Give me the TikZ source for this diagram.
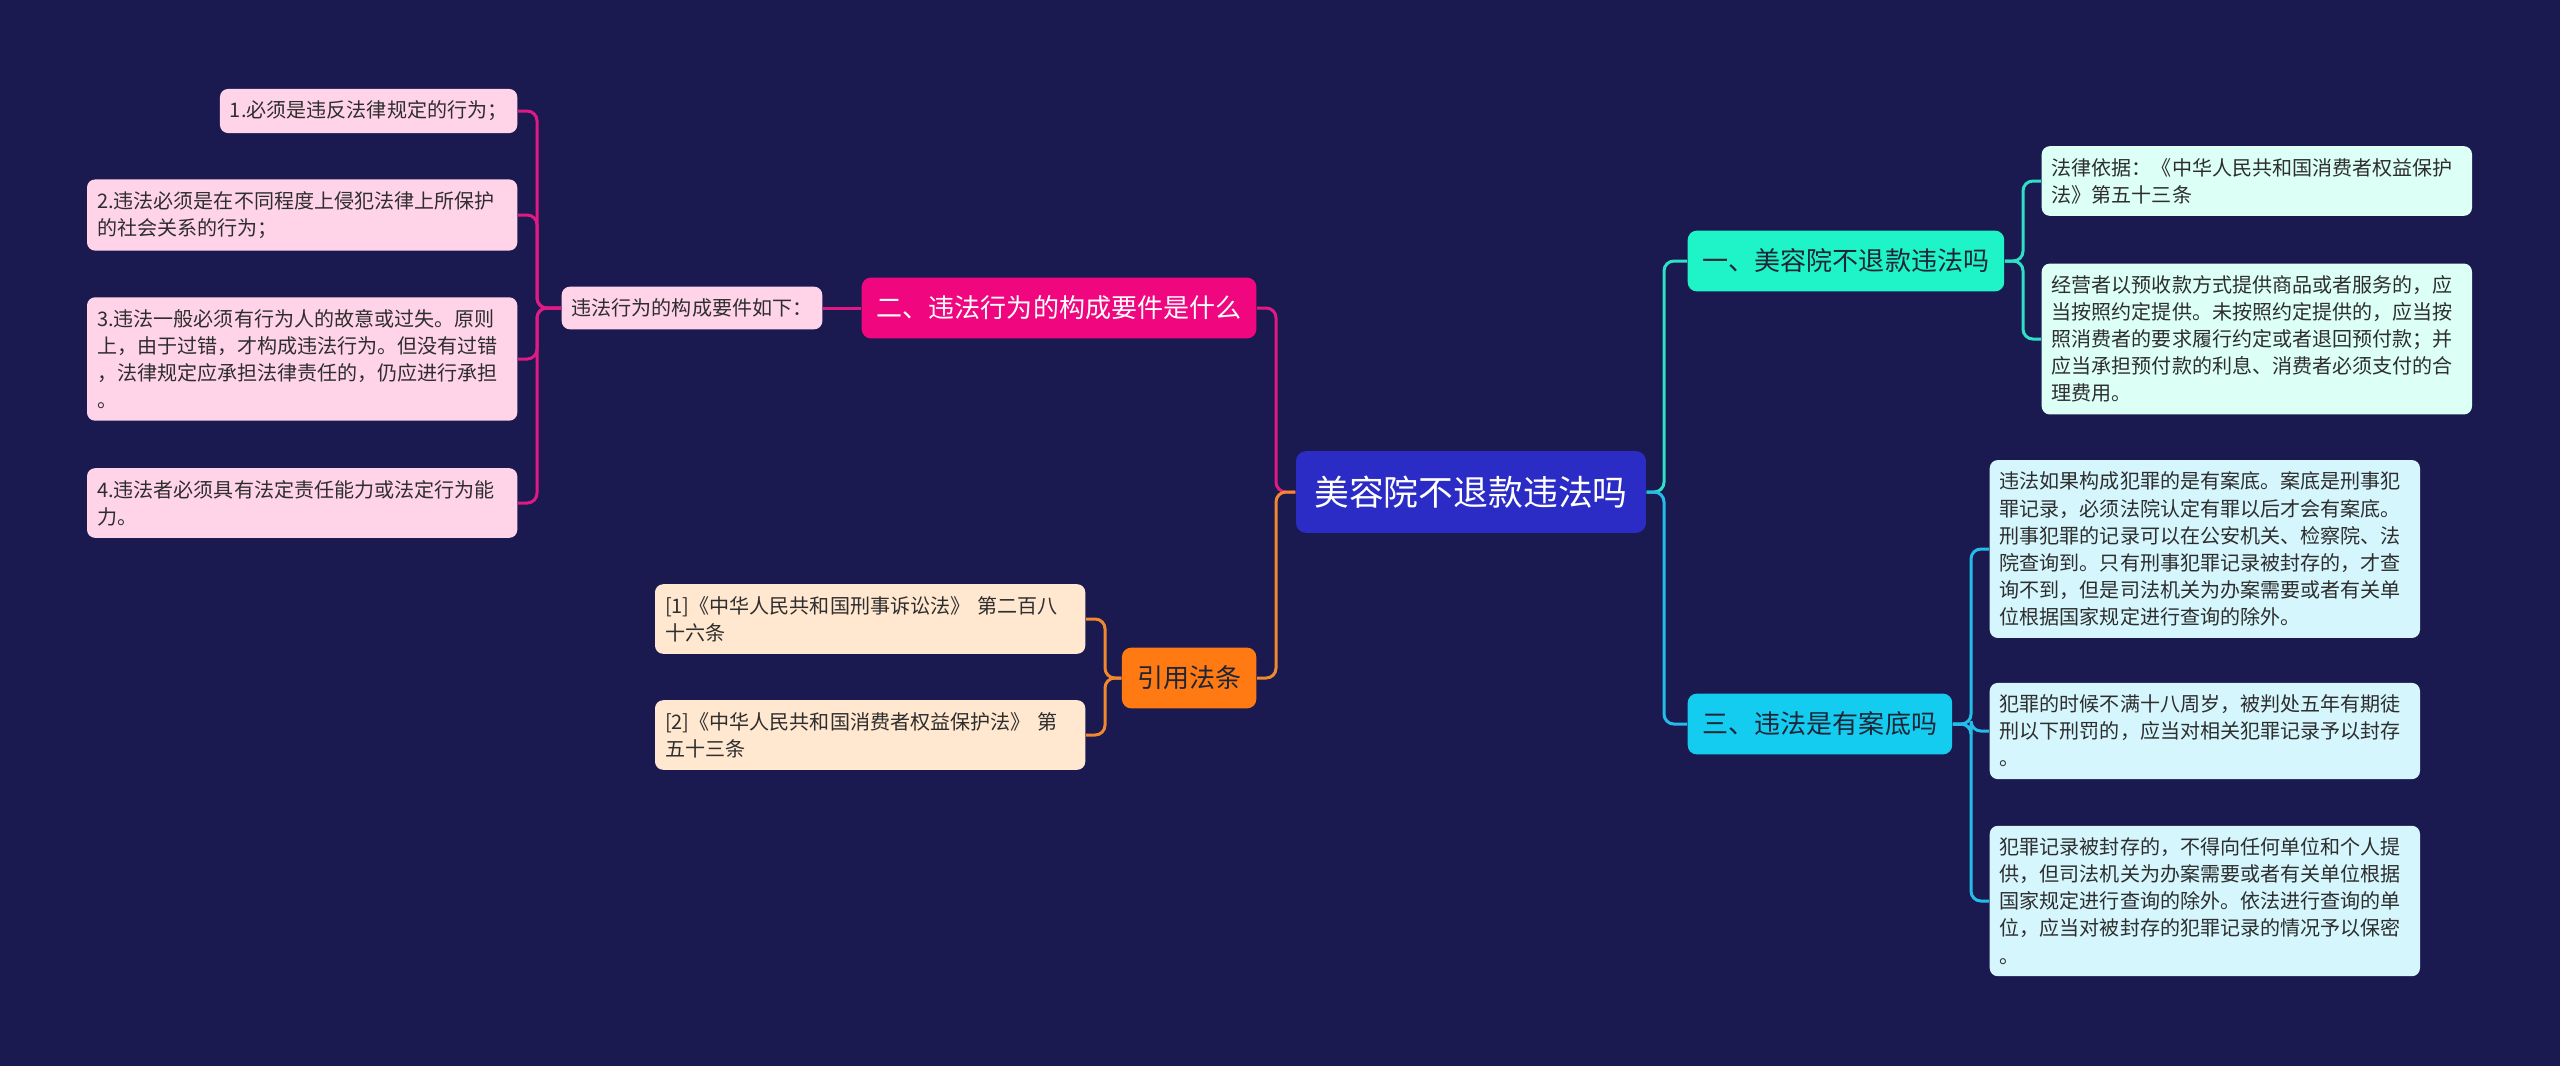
\documentclass[tikz,border=0pt]{standalone}
\usepackage{fontspec}
\setmainfont{Noto Sans CJK SC}
\usepackage{tikz}
\usetikzlibrary{positioning}
\definecolor{bgc}{HTML}{1B1A50}
\definecolor{rootc}{HTML}{2B2BC6}
\definecolor{pinkc}{HTML}{F0077F}
\definecolor{pinkline}{HTML}{E01A84}
\definecolor{pinkleaf}{HTML}{FFD3E8}
\definecolor{orangec}{HTML}{FF7A12}
\definecolor{orangeline}{HTML}{F0892E}
\definecolor{peach}{HTML}{FFE7D0}
\definecolor{tealc}{HTML}{1EF4C7}
\definecolor{tealline}{HTML}{2EE0C6}
\definecolor{mint}{HTML}{DCFFF6}
\definecolor{skyc}{HTML}{14CBF0}
\definecolor{skyline}{HTML}{23BDE8}
\definecolor{ice}{HTML}{D5F6FD}
\definecolor{ink}{HTML}{2E2E2E}
\definecolor{darkink}{HTML}{1E2636}
\tikzset{
  rootbox/.style={fill=rootc,text=white,rounded corners=2.8pt,inner xsep=5.2pt,inner ysep=7pt,
    font=\fontsize{9.9pt}{12pt}\selectfont},
  mainbox/.style={rounded corners=2.6pt,inner xsep=4.3pt,inner ysep=5.2pt,
    font=\fontsize{7.4pt}{9pt}\selectfont},
  leaf/.style={rounded corners=2.3pt,align=left,inner xsep=2.85pt,inner ysep=3.4pt,text=ink,
    font=\fontsize{5.7pt}{7.7pt}\selectfont},
  wide/.style={leaf,text width=4.1cm},
  link/.style={line width=0.85pt,rounded corners=2.8pt}
}
\begin{document}
\begin{tikzpicture}[x=0.01cm,y=-0.01cm]
  \fill[bgc] (0,0) rectangle (2560,1066);
  \useasboundingbox (0,0) rectangle (2560,1066);
  \node[rootbox] (root) at (1471,492) {美容院不退款违法吗};
  % left side
  \node[mainbox,fill=pinkc,text=white,anchor=east] (b2) at (1257,308) {二、违法行为的构成要件是什么};
  \node[leaf,fill=pinkleaf,left=0.38cm of b2] (sub) {违法行为的构成要件如下：};
  \node[leaf,fill=pinkleaf,anchor=east] (p1) at (518,111) {1.必须是违反法律规定的行为；};
  \node[wide,fill=pinkleaf,anchor=east] (p2) at (518,215) {2.违法必须是在不同程度上侵犯法律上所保护\\的社会关系的行为；};
  \node[wide,fill=pinkleaf,anchor=east] (p3) at (518,359) {3.违法一般必须有行为人的故意或过失。原则\\上，由于过错，才构成违法行为。但没有过错\\，法律规定应承担法律责任的，仍应进行承担\\。};
  \node[wide,fill=pinkleaf,anchor=east] (p4) at (518,503) {4.违法者必须具有法定责任能力或法定行为能\\力。};
  \node[mainbox,fill=orangec,text=darkink,anchor=east] (cite) at (1257,678) {引用法条};
  \node[wide,fill=peach,anchor=east] (r1) at (1086,619) {[1]《中华人民共和国刑事诉讼法》 第二百八\\十六条};
  \node[wide,fill=peach,anchor=east] (r2) at (1086,735) {[2]《中华人民共和国消费者权益保护法》 第\\五十三条};
  % right side
  \node[mainbox,fill=tealc,text=darkink,anchor=west] (b1) at (1687,261) {一、美容院不退款违法吗};
  \node[wide,fill=mint,anchor=west] (a1) at (2041,181) {法律依据：《中华人民共和国消费者权益保护\\法》第五十三条};
  \node[wide,fill=mint,anchor=west] (a2) at (2041,339) {经营者以预收款方式提供商品或者服务的，应\\当按照约定提供。未按照约定提供的，应当按\\照消费者的要求履行约定或者退回预付款；并\\应当承担预付款的利息、消费者必须支付的合\\理费用。};
  \node[mainbox,fill=skyc,text=darkink,anchor=west] (b3) at (1687,724) {三、违法是有案底吗};
  \node[wide,fill=ice,anchor=west] (c1) at (1989,549) {违法如果构成犯罪的是有案底。案底是刑事犯\\罪记录，必须法院认定有罪以后才会有案底。\\刑事犯罪的记录可以在公安机关、检察院、法\\院查询到。只有刑事犯罪记录被封存的，才查\\询不到，但是司法机关为办案需要或者有关单\\位根据国家规定进行查询的除外。};
  \node[wide,fill=ice,anchor=west] (c2) at (1989,731) {犯罪的时候不满十八周岁，被判处五年有期徒\\刑以下刑罚的，应当对相关犯罪记录予以封存\\。};
  \node[wide,fill=ice,anchor=west] (c3) at (1989,901) {犯罪记录被封存的，不得向任何单位和个人提\\供，但司法机关为办案需要或者有关单位根据\\国家规定进行查询的除外。依法进行查询的单\\位，应当对被封存的犯罪记录的情况予以保密\\。};
  % connectors
  \foreach \c/\col in {b2/pinkline,cite/orangeline}
    \draw[link,draw=\col] (root.west) -- ([xshift=0.19cm]\c.east |- root.west) |- (\c.east);
  \foreach \c/\col in {b1/tealline,b3/skyline}
    \draw[link,draw=\col] (root.east) -- ([xshift=-0.23cm]\c.west |- root.east) |- (\c.west);
  \draw[link,draw=pinkline] (b2.west) -- (sub.east);
  \foreach \c in {p1,p2,p3,p4}
    \draw[link,draw=pinkline] (sub.west) -- ([xshift=0.19cm]\c.east |- sub.west) |- (\c.east);
  \foreach \c in {r1,r2}
    \draw[link,draw=orangeline] (cite.west) -- ([xshift=0.19cm]\c.east |- cite.west) |- (\c.east);
  \foreach \c in {a1,a2}
    \draw[link,draw=tealline] (b1.east) -- ([xshift=-0.18cm]\c.west |- b1.east) |- (\c.west);
  \foreach \c in {c1,c2,c3}
    \draw[link,draw=skyline] (b3.east) -- ([xshift=-0.18cm]\c.west |- b3.east) |- (\c.west);
\end{tikzpicture}
\end{document}
